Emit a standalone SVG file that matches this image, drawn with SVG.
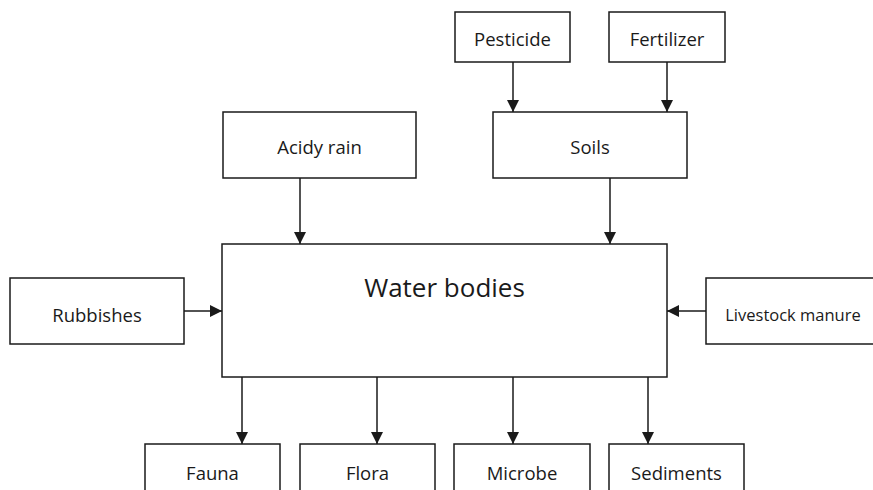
<svg xmlns="http://www.w3.org/2000/svg" width="873" height="490" viewBox="0 0 873 490">
<defs>
<style>
.box{fill:#fff;stroke:#1a1a1a;stroke-width:1.5}
.lbl{font-family:"Open Sans","Noto Sans",sans-serif;font-size:18.5px;fill:#1a1a1a;text-anchor:middle;dominant-baseline:central}
.big{font-size:26px}
.sm{font-size:16.5px}
.edge{stroke:#1a1a1a;stroke-width:1.5;fill:none;marker-end:url(#ah)}
</style>
<marker id="ah" viewBox="0 0 12 12" refX="12" refY="6" markerWidth="12" markerHeight="12" markerUnits="userSpaceOnUse" orient="auto">
<path d="M0,0 L12,6 L0,12 Z" fill="#1a1a1a"/>
</marker>
</defs>
<rect width="873" height="490" fill="#fff"/>
<g id="connectors">
<line class="edge" x1="513" y1="62" x2="513" y2="112"/>
<line class="edge" x1="667" y1="62" x2="667" y2="112"/>
<line class="edge" x1="300" y1="178" x2="300" y2="244"/>
<line class="edge" x1="610" y1="178" x2="610" y2="244"/>
<line class="edge" x1="184" y1="311" x2="222" y2="311"/>
<line class="edge" x1="706" y1="311" x2="667" y2="311"/>
<line class="edge" x1="242" y1="377" x2="242" y2="444"/>
<line class="edge" x1="377" y1="377" x2="377" y2="444"/>
<line class="edge" x1="513" y1="377" x2="513" y2="444"/>
<line class="edge" x1="648" y1="377" x2="648" y2="444"/>
</g>
<g id="pesticide"><rect class="box" x="455" y="12" width="115" height="50"/><text class="lbl" x="512.5" y="38">Pesticide</text></g>
<g id="fertilizer"><rect class="box" x="609" y="12" width="116" height="50"/><text class="lbl" x="667" y="38">Fertilizer</text></g>
<g id="acidy-rain"><rect class="box" x="223" y="112" width="193" height="66"/><text class="lbl" x="319.5" y="146">Acidy rain</text></g>
<g id="soils"><rect class="box" x="493" y="112" width="194" height="66"/><text class="lbl" x="590" y="146">Soils</text></g>
<g id="water-bodies"><rect class="box" x="222" y="244" width="445" height="133"/><text class="lbl big" x="444.5" y="287">Water bodies</text></g>
<g id="rubbishes"><rect class="box" x="10" y="278" width="174" height="66"/><text class="lbl" x="97" y="314">Rubbishes</text></g>
<g id="livestock-manure"><rect class="box" x="706" y="278" width="175" height="66"/><text class="lbl sm" x="793" y="314">Livestock manure</text></g>
<g id="fauna"><rect class="box" x="145" y="444" width="135" height="60"/><text class="lbl" x="212.5" y="472">Fauna</text></g>
<g id="flora"><rect class="box" x="300" y="444" width="135" height="60"/><text class="lbl" x="367.5" y="472">Flora</text></g>
<g id="microbe"><rect class="box" x="454" y="444" width="136" height="60"/><text class="lbl" x="522" y="472">Microbe</text></g>
<g id="sediments"><rect class="box" x="609" y="444" width="135" height="60"/><text class="lbl" x="676.5" y="472">Sediments</text></g>
</svg>
